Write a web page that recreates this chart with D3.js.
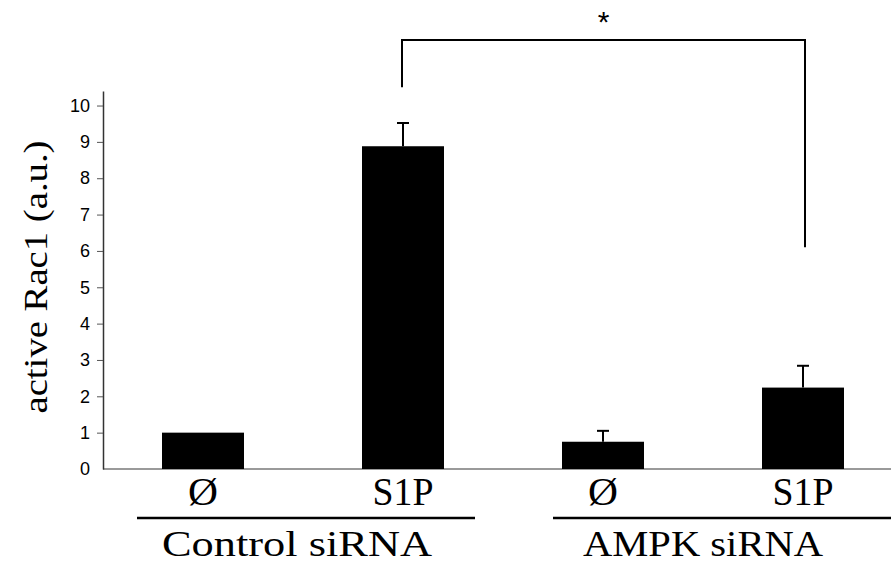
<!DOCTYPE html>
<html>
<head>
<meta charset="utf-8">
<script src="https://cdn.jsdelivr.net/npm/d3@7"></script>
<style>
  body { margin: 0; background: #fff; }
  svg { display: block; }
</style>
</head>
<body>
<svg width="891" height="567"></svg>
<script>
// data
const categories = ['ctrl-0', 'ctrl-s1p', 'ampk-0', 'ampk-s1p'];
const barLabels = ['Ø', 'S1P', 'Ø', 'S1P'];
const means = [1.0, 8.88, 0.75, 2.24];
const errors = [0, 0.64, 0.30, 0.60];
const groupNames = ['Control siRNA', 'AMPK siRNA'];
const groupMembers = [['ctrl-0', 'ctrl-s1p'], ['ampk-0', 'ampk-s1p']];
const yTicks = [0, 1, 2, 3, 4, 5, 6, 7, 8, 9, 10];
const yLabel = 'active Rac1 (a.u.)';
// significance bracket: from ctrl S1P to AMPK S1P
const sig = { from: 'ctrl-s1p', to: 'ampk-s1p', leftEnd: 10.5, rightEnd: 6.1, top: 11.8, mark: '*' };

const serif = 'Liberation Serif, Times New Roman, serif';
const sans = 'Liberation Sans, Arial, sans-serif';

const svg = d3.select('svg');
const width = +svg.attr('width');

const x0 = 103, x1 = 903;

const xScale = d3.scaleBand()
    .domain(categories)
    .range([x0, x1])
    .paddingInner(0.59)
    .paddingOuter(0.295);

const yScale = d3.scaleLinear()
    .domain([0, 10.4])
    .range([469, 91]);

const bw = xScale.bandwidth();
const cx = id => xScale(id) + bw / 2;

// grey baseline
svg.append('line')
    .attr('x1', x0).attr('x2', width)
    .attr('y1', yScale(0)).attr('y2', yScale(0))
    .attr('stroke', '#9a9a9a').attr('stroke-width', 2);

const rows = categories.map((c, i) => ({ id: c, v: means[i], e: errors[i] }));

// bars
svg.append('g').selectAll('rect').data(rows)
  .enter().append('rect')
    .attr('x', d => xScale(d.id))
    .attr('width', bw)
    .attr('y', d => yScale(d.v))
    .attr('height', d => yScale(0) - yScale(d.v))
    .attr('fill', '#000');

// error bars, upper half only
const eb = svg.append('g').selectAll('g').data(rows.filter(d => d.e > 0))
  .enter().append('g');
eb.append('line')
    .attr('x1', d => cx(d.id)).attr('x2', d => cx(d.id))
    .attr('y1', d => yScale(d.v)).attr('y2', d => yScale(d.v + d.e))
    .attr('stroke', '#000').attr('stroke-width', 2);
eb.append('line')
    .attr('x1', d => cx(d.id) - 6).attr('x2', d => cx(d.id) + 6)
    .attr('y1', d => yScale(d.v + d.e)).attr('y2', d => yScale(d.v + d.e))
    .attr('stroke', '#000').attr('stroke-width', 2);

// y axis
const yAxis = svg.append('g')
    .attr('transform', `translate(${x0}, 0)`)
    .call(d3.axisLeft(yScale).tickValues(yTicks).tickSize(6).tickPadding(7).tickSizeOuter(0));
yAxis.attr('font-family', sans).attr('font-size', 18);
yAxis.select('.domain').attr('stroke', '#333').attr('stroke-width', 1.5);
yAxis.selectAll('.tick line').attr('stroke', '#555');
yAxis.selectAll('.tick text').attr('fill', '#000');
yAxis.select('.tick:first-of-type line').remove();

// y label
svg.append('text')
    .attr('transform', 'translate(47, 277) rotate(-90)')
    .attr('text-anchor', 'middle')
    .attr('font-family', serif)
    .attr('font-size', 34)
    .attr('textLength', 273)
    .attr('lengthAdjust', 'spacingAndGlyphs')
    .text(yLabel);

// bar labels
svg.append('g').selectAll('text').data(categories)
  .enter().append('text')
    .attr('x', d => cx(d))
    .attr('y', 505)
    .attr('text-anchor', 'middle')
    .attr('font-family', serif)
    .attr('font-size', 39)
    .attr('textLength', (d, i) => barLabels[i] === 'S1P' ? 61 : 30)
    .attr('lengthAdjust', 'spacingAndGlyphs')
    .text((d, i) => barLabels[i]);

// group underlines + names
const groupLines = [
  [cx(groupMembers[0][0]) - 66, cx(groupMembers[0][1]) + 72],
  [cx(groupMembers[1][0]) - 50, width]
];
const groupWidths = [270, 240];
svg.append('g').selectAll('line').data(groupLines)
  .enter().append('line')
    .attr('x1', d => d[0]).attr('x2', d => d[1])
    .attr('y1', 518).attr('y2', 518)
    .attr('stroke', '#000').attr('stroke-width', 2.5);
svg.append('g').selectAll('text').data(groupNames)
  .enter().append('text')
    .attr('x', (d, i) => (cx(groupMembers[i][0]) + cx(groupMembers[i][1])) / 2 - 6 + i * 6)
    .attr('y', 556)
    .attr('text-anchor', 'middle')
    .attr('font-family', serif)
    .attr('font-size', 36)
    .attr('textLength', (d, i) => groupWidths[i])
    .attr('lengthAdjust', 'spacingAndGlyphs')
    .text(d => d);

// significance bracket
const bx1 = cx(sig.from) - 1, bx2 = cx(sig.to) + 2;
svg.append('path')
    .attr('d', `M${bx1},${yScale(sig.leftEnd)} V${yScale(sig.top)} H${bx2} V${yScale(sig.rightEnd)}`)
    .attr('fill', 'none')
    .attr('stroke', '#000')
    .attr('stroke-width', 2);
svg.append('text')
    .attr('x', (bx1 + bx2) / 2)
    .attr('y', 32)
    .attr('text-anchor', 'middle')
    .attr('font-family', sans)
    .attr('font-size', 30)
    .text(sig.mark);
</script>
</body>
</html>
